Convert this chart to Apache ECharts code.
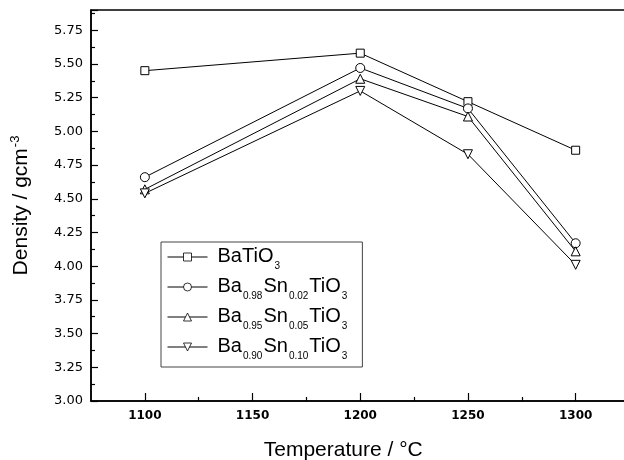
<!DOCTYPE html>
<html>
<head>
<meta charset="utf-8">
<script src="https://cdn.jsdelivr.net/npm/echarts@6/dist/echarts.min.js"></script>
<style>
  html, body { margin: 0; padding: 0; background: #fff; }
  #chart { width: 624px; height: 460px; }
</style>
</head>
<body>
<div id="chart"></div>
<script>
// temperatures (°C)
const temps = [1100, 1200, 1250, 1300];
// density values
const batio3 = [5.45, 5.58, 5.22, 4.86];
const sn002 = [4.66, 5.47, 5.17, 4.17];
const sn005 = [4.57, 5.39, 5.11, 4.11];
const sn010 = [4.54, 5.30, 4.83, 4.01];

const xMajorTicks = [1100, 1150, 1200, 1250, 1300];
const xMinorTicks = [1125, 1175, 1225, 1275];

const seriesNames = ['BaTiO3', 'Ba0.98Sn0.02TiO3', 'Ba0.95Sn0.05TiO3', 'Ba0.90Sn0.10TiO3'];
const legendLabels = [
    '{f|BaTiO}{s|3}',
    '{f|Ba}{s|0.98}{n|Sn}{s|0.02}{n|TiO}{s|3}',
    '{f|Ba}{s|0.95}{n|Sn}{s|0.05}{n|TiO}{s|3}',
    '{f|Ba}{s|0.90}{n|Sn}{s|0.10}{n|TiO}{s|3}'
];
const symbols = ['rect', 'circle', 'triangle', 'triangle'];
const rotations = [0, 0, 0, 180];
const sizes = [8, 9, 9, 9];
const allValues = [batio3, sn002, sn005, sn010];

const myChart = echarts.init(document.getElementById('chart'));
const font = 'Liberation Sans, Arial';

const series = allValues.map((vals, i) => ({
    name: seriesNames[i],
    type: 'line',
    data: temps.map((t, k) => [t, vals[k]]),
    symbol: symbols[i],
    symbolSize: sizes[i],
    symbolRotate: rotations[i],
    showAllSymbol: true,
    lineStyle: { color: '#000', width: 1 },
    itemStyle: { color: '#fff', borderColor: '#000', borderWidth: 1 },
    z: 2 + i
}));

const option = {
    backgroundColor: '#fff',
    animation: false,
    grid: {
        left: 91,
        top: 10,
        right: -5.5,
        bottom: 59,
        outerBoundsMode: 'none',
        show: true,
        borderColor: '#000',
        borderWidth: 1.5
    },
    legend: {
        data: seriesNames,
        orient: 'vertical',
        left: 161,
        top: 242,
        itemWidth: 40,
        itemHeight: 10,
        itemGap: 2,
        padding: [1, 14, 6, 6],
        borderColor: '#444',
        borderWidth: 1,
        symbolRotate: 'inherit',
        lineStyle: { width: 1 },
        itemStyle: { color: '#fff', borderColor: '#000', borderWidth: 0.8 },
        formatter: name => legendLabels[seriesNames.indexOf(name)],
        textStyle: {
            color: '#000',
            rich: {
                f: { fontSize: 20, lineHeight: 22, fontFamily: font, color: '#000', verticalAlign: 'top', padding: [0, 0, 0, 5] },
                n: { fontSize: 20, lineHeight: 22, fontFamily: font, color: '#000', verticalAlign: 'top' },
                s: { fontSize: 10, lineHeight: 10, fontFamily: font, color: '#000', padding: [18, 1, 0, 1] }
            }
        }
    },
    xAxis: [{
        type: 'value',
        min: 1075,
        max: 1325,
        name: 'Temperature / °C',
        nameLocation: 'middle',
        nameGap: 39,
        nameTextStyle: { fontSize: 21, fontFamily: font, color: '#000', padding: [0, 34, 0, 0] },
        axisLine: { lineStyle: { color: '#000', width: 1.5 } },
        axisTick: { inside: true, length: 8, customValues: xMajorTicks, lineStyle: { color: '#000', width: 1.2 } },
        axisLabel: {
            color: '#000', fontSize: 12, fontWeight: 'bold', fontFamily: 'DejaVu Sans', margin: 9,
            customValues: xMajorTicks,
            formatter: v => String(v)
        },
        splitLine: { show: false }
    }, {
        type: 'value',
        position: 'bottom',
        min: 1075,
        max: 1325,
        axisLine: { show: false },
        axisTick: { inside: true, length: 4, customValues: xMinorTicks, lineStyle: { color: '#000', width: 1.2 } },
        axisLabel: { show: false },
        splitLine: { show: false }
    }],
    yAxis: {
        type: 'value',
        min: 3.0,
        max: 5.9,
        interval: 0.25,
        name: '{a|Density / gcm}{b|-3}',
        nameLocation: 'middle',
        nameGap: 57,
        nameRotate: 90,
        nameTextStyle: {
            rich: {
                a: { fontSize: 21, fontFamily: font, color: '#000' },
                b: { fontSize: 13, fontFamily: font, color: '#000', padding: [0, 0, 12, 1] }
            }
        },
        axisLine: { lineStyle: { color: '#000', width: 1.5 } },
        axisTick: { inside: true, length: 7, lineStyle: { color: '#000', width: 1.2 } },
        minorTick: { show: true, splitNumber: 2, length: 4, lineStyle: { color: '#000', width: 1.2 } },
        axisLabel: {
            color: '#000', fontSize: 13, fontFamily: 'DejaVu Sans', margin: 8,
            formatter: v => v > 5.8 ? '' : v.toFixed(2)
        },
        splitLine: { show: false }
    },
    series: series
};

myChart.setOption(option);
</script>
</body>
</html>
